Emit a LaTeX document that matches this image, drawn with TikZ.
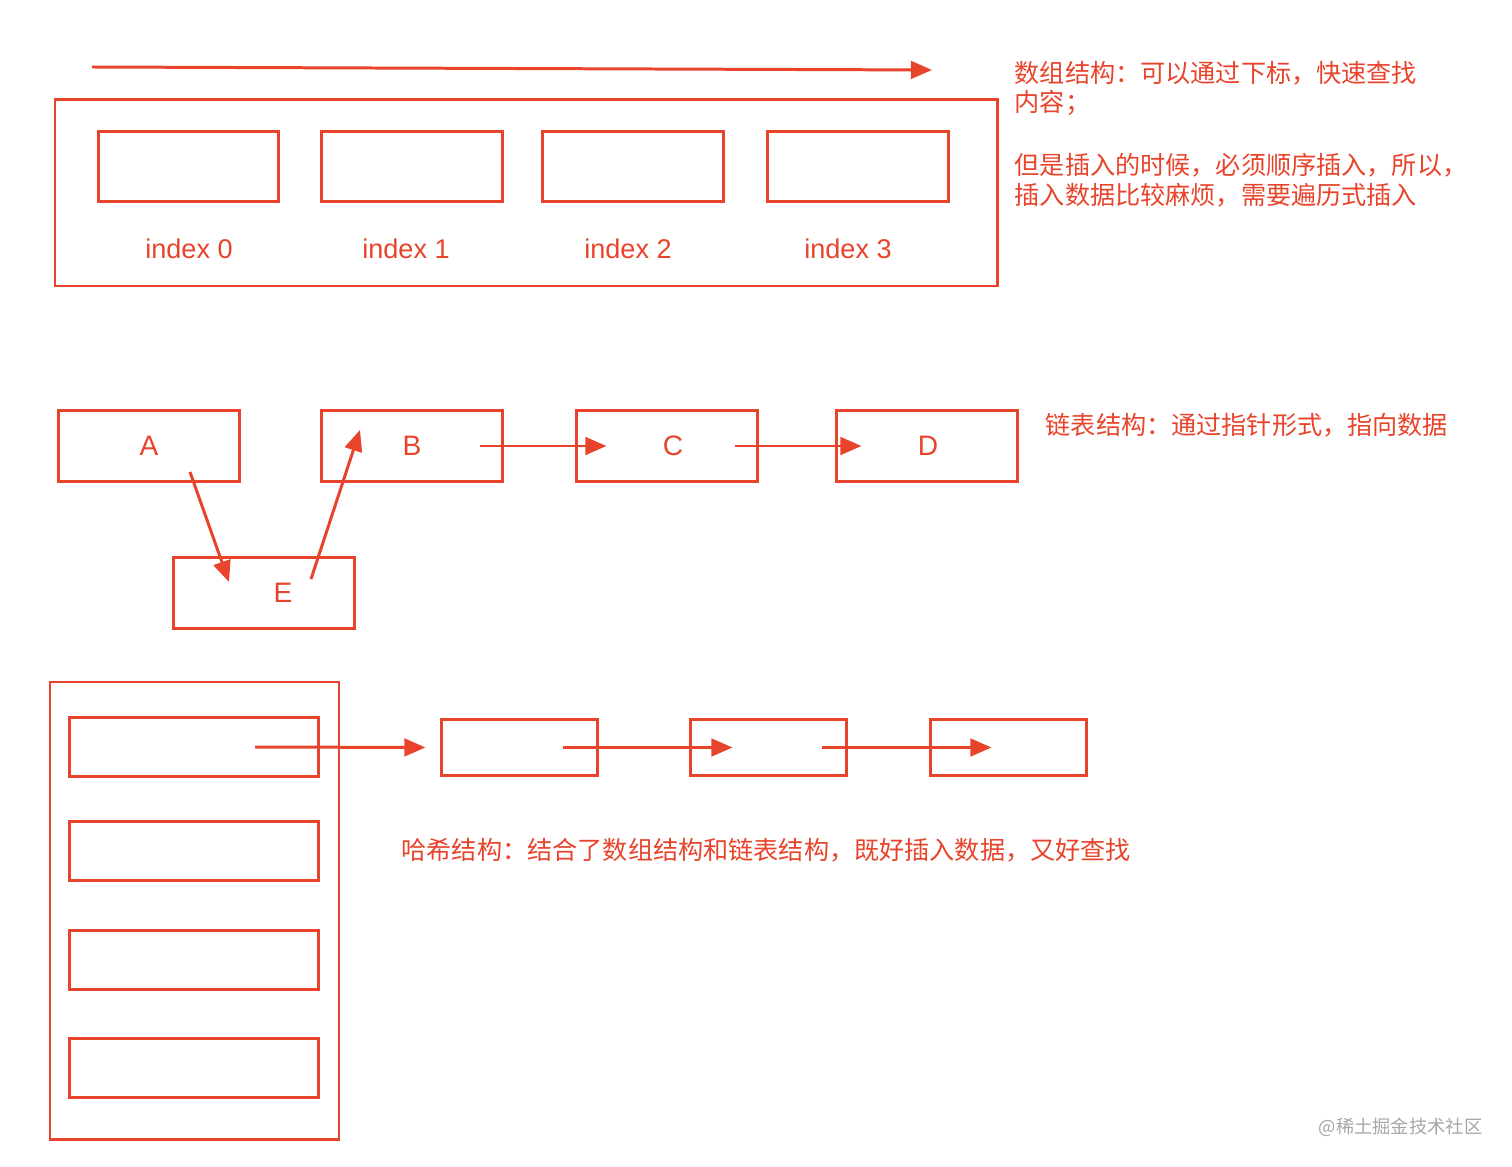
\documentclass[tikz,border=0pt]{standalone}
\usepackage{fontspec}
\setmainfont{Liberation Sans}
\newfontfamily\cjk{Noto Sans CJK SC}
\usetikzlibrary{arrows.meta}
\definecolor{hred}{HTML}{E8432B}

\tikzset{
  cell/.style={draw=hred, line width=0.85pt, minimum width=1.8cm, minimum height=0.7cm, inner sep=0pt, text=hred, font=\fontsize{8}{10}\selectfont},
  slot/.style={cell, minimum width=2.48cm, minimum height=0.58cm},
  link/.style={cell, minimum width=1.55cm, minimum height=0.55cm},
  note/.style={text=hred, anchor=west, inner sep=0pt, font=\cjk\fontsize{7.15}{9}\selectfont},
  ptr/.style={hred, line width=0.85pt, -{Triangle[length=6pt,width=5pt]}}
}

\begin{document}
\begin{tikzpicture}[x=0.01cm, y=-0.01cm]
  \useasboundingbox (0,0) rectangle (1512,1167);
  % array
  \draw[hred, line width=0.85pt] (55,100) rectangle (997,286);
  \node[cell] (i0) at (188.5,166.5) {};
  \node[cell] (i1) at (412,166.5) {};
  \node[cell] (i2) at (633,166.5) {};
  \node[cell] (i3) at (858,166.5) {};
  \foreach \n/\x in {0/189,1/406,2/628,3/848}
    \node[text=hred, font=\fontsize{7.7}{10}\selectfont] (l\n) at (\x,249) {index \n};
  \coordinate (s0) at (92,67);
  \coordinate (s1) at (932,70);
  \draw[ptr] (s0) -- (s1);
  \node[note] (t1) at (1014,73) {数组结构：可以通过下标，快速查找};
  \node[note] (t2) at (1014,103) {内容；};
  \node[note] (t3) at (1014,165) {但是插入的时候，必须顺序插入，所以，};
  \node[note] (t4) at (1014,195) {插入数据比较麻烦，需要遍历式插入};

  % linked list
  \node[cell] (A) at (149,446) {A};
  \node[cell] (B) at (412,446) {B};
  \node[cell] (C) at (667,446) {\hspace*{0.12cm}C};
  \node[cell] (D) at (927,446) {\hspace*{0.02cm}D};
  \node[cell] (E) at (264,593) {\hspace*{0.38cm}E};
  \draw[ptr] ([xshift=0.68cm]B.center) -- ([xshift=0.31cm]C.west);
  \draw[ptr] ([xshift=0.68cm]C.center) -- ([xshift=0.26cm]D.west);
  \draw[ptr] ([shift={(0.41cm,-0.26cm)}]A.center) -- ([shift={(-0.35cm,0.11cm)}]E.center);
  \draw[ptr] ([shift={(0.47cm,0.14cm)}]E.center) -- ([shift={(-0.52cm,0.16cm)}]B.center);
  \node[note] (t5) at (1045,425) {链表结构：通过指针形式，指向数据};

  % hash
  \draw[hred, line width=0.85pt] (50,682) rectangle (339,1139);
  \node[slot] (h0) at (194,747) {};
  \node[slot] (h1) at (194,851) {};
  \node[slot] (h2) at (194,960) {};
  \node[slot] (h3) at (194,1068) {};
  \node[link] (k0) at (519.5,747.5) {};
  \node[link] (k1) at (768.5,747.5) {};
  \node[link] (k2) at (1008.5,747.5) {};
  \draw[ptr] ([xshift=0.61cm]h0.center) -- ([xshift=-0.15cm]k0.west);
  \draw[ptr] ([xshift=0.43cm]k0.center) -- ([xshift=0.43cm]k1.west);
  \draw[ptr] ([xshift=0.53cm]k1.center) -- ([xshift=0.62cm]k2.west);
  \node[note] (t6) at (401,850) {哈希结构：结合了数组结构和链表结构，既好插入数据，又好查找};

  \node[anchor=east, text=gray!70, inner sep=0pt, font=\cjk\fontsize{5.2}{6}\selectfont] (wm) at (1483,1127) {@稀土掘金技术社区};
\end{tikzpicture}
\end{document}
